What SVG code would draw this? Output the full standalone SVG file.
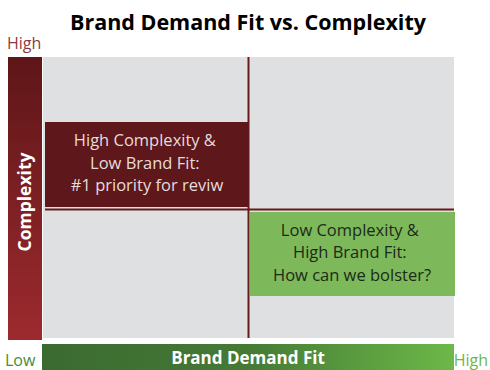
<svg xmlns="http://www.w3.org/2000/svg" width="490" height="370" viewBox="0 0 490 370">
  <style>
    .title { font-family: "Open Sans", "Liberation Sans", sans-serif; font-weight: bold; font-size: 21.5px; fill: #000; }
    .axis-end { font-family: "Open Sans", "Liberation Sans", sans-serif; font-size: 16px; }
    .axis-label { font-family: "Open Sans", "Liberation Sans", sans-serif; font-weight: bold; fill: #fff; }
    .quad { font-family: "Open Sans", "Liberation Sans", sans-serif; font-size: 16.5px; text-anchor: middle; }
  </style>
  <defs>
    <linearGradient id="redBar" x1="0" y1="0" x2="0" y2="1">
      <stop offset="0" stop-color="#5e1618"/>
      <stop offset="1" stop-color="#9c2a2e"/>
    </linearGradient>
    <linearGradient id="greenBar" x1="0" y1="0" x2="1" y2="0">
      <stop offset="0" stop-color="#3b6a31"/>
      <stop offset="0.5" stop-color="#457a35"/>
      <stop offset="1" stop-color="#6cb848"/>
    </linearGradient>
  </defs>

  <rect width="490" height="370" fill="#fff"/>

  <text class="title" x="248" y="30" text-anchor="middle">Brand Demand Fit vs. Complexity</text>

  <!-- plot area -->
  <rect id="plot" x="43" y="57" width="411" height="281" fill="#dfe0e2"/>

  <!-- vertical axis bar -->
  <g id="complexity-axis">
    <rect x="8" y="57" width="34" height="283" fill="url(#redBar)"/>
    <text class="axis-label" font-size="17.5" transform="translate(31 202) rotate(-90)" text-anchor="middle">Complexity</text>
    <text class="axis-end" x="7" y="49" fill="#8c3a3e">High</text>
  </g>

  <!-- horizontal axis bar -->
  <g id="demand-axis">
    <rect x="42" y="344" width="412" height="26" fill="url(#greenBar)"/>
    <text class="axis-label" font-size="17" x="248" y="364" text-anchor="middle">Brand Demand Fit</text>
    <text class="axis-end" x="5" y="366" fill="#4a8a3a">Low</text>
    <text class="axis-end" x="488" y="366" text-anchor="end" fill="#6cb848">High</text>
  </g>

  <!-- quadrant dividers -->
  <g id="dividers" stroke="#6a1a1c" stroke-width="2">
    <line x1="248.5" y1="57" x2="248.5" y2="338"/>
    <line x1="45" y1="209.5" x2="454" y2="209.5"/>
  </g>

  <g id="q-high-complexity">
    <rect x="45" y="122" width="204" height="85" fill="#5e171a"/>
    <text class="quad" fill="#e6dcdc">
      <tspan x="147" y="146">High Complexity &amp;</tspan>
      <tspan x="147" y="169">Low Brand Fit:</tspan>
      <tspan x="147" y="191">#1 priority for reviw</tspan>
    </text>
  </g>

  <g id="q-high-fit">
    <rect x="250" y="212" width="205" height="84" fill="#7db95a"/>
    <text class="quad" fill="#1c2a18">
      <tspan x="352" y="236">Low Complexity &amp;</tspan>
      <tspan x="352" y="258">High Brand Fit:</tspan>
      <tspan x="352" y="281">How can we bolster?</tspan>
    </text>
  </g>
</svg>
